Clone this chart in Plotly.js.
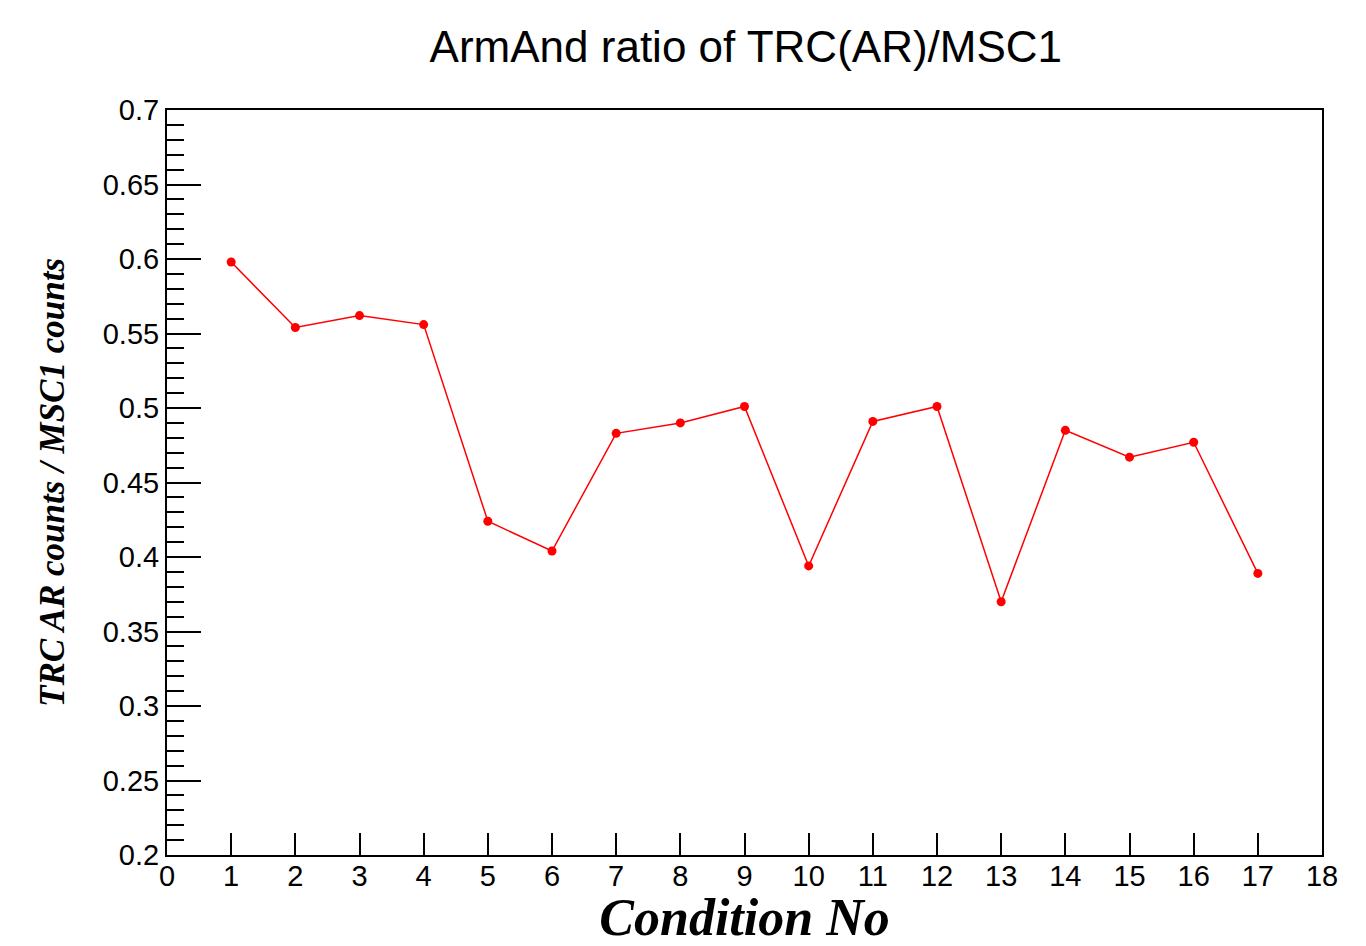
<!DOCTYPE html>
<html>
<head>
<meta charset="utf-8">
<script src="https://cdn.plot.ly/plotly-3.0.1.min.js"></script>
<style>html,body{margin:0;padding:0;background:#fff;}#chart{width:1366px;height:946px;}</style>
</head>
<body>
<div id="chart"></div>
<script>
const conditions = [1,2,3,4,5,6,7,8,9,10,11,12,13,14,15,16,17];
const ratios = [0.598,0.554,0.562,0.556,0.424,0.404,0.483,0.490,0.501,0.394,0.491,0.501,0.370,0.485,0.467,0.477,0.389];
const chartTitle = "ArmAnd ratio of TRC(AR)/MSC1";
const xTitle = "Condition No";
const yTitle = "TRC AR counts / MSC1 counts";

const trace = {
  x: conditions, y: ratios, type: 'scatter', mode: 'lines+markers',
  line: {color: '#ff0000', width: 1.5},
  marker: {color: '#ff0000', size: 9},
  hoverinfo: 'x+y'
};
const tickFont = {family: 'Liberation Sans, Arial, sans-serif', size: 29, color: '#000'};
const layout = {
  width: 1366, height: 946,
  paper_bgcolor: '#fff', plot_bgcolor: '#fff',
  margin: {l: 167, r: 44, t: 110, b: 91},
  showlegend: false,
  title: {text: chartTitle, x: 0.546, xanchor: 'center', y: 0.951, yanchor: 'middle',
          font: {family: 'Liberation Sans, Arial, sans-serif', size: 44, color: '#000'}},
  xaxis: {
    range: [0, 18], tickmode: 'linear', tick0: 0, dtick: 1,
    ticks: 'inside', ticklen: 22, tickwidth: 2, tickcolor: '#000',
    ticklabelstandoff: -6,
    showline: true, linecolor: '#000', linewidth: 2, mirror: true,
    showgrid: false, zeroline: false, tickfont: tickFont,
    title: {text: '<b><i>' + xTitle + '</i></b>', standoff: 6,
            font: {family: 'Liberation Serif, Times New Roman, serif', size: 52, color: '#000'}}
  },
  yaxis: {
    range: [0.2, 0.7], tickmode: 'linear', tick0: 0.2, dtick: 0.05,
    ticks: 'inside', ticklen: 34, tickwidth: 2, tickcolor: '#000',
    minor: {dtick: 0.01, ticks: 'inside', ticklen: 17, tickwidth: 2, tickcolor: '#000', showgrid: false},
    showline: true, linecolor: '#000', linewidth: 2, mirror: true,
    showgrid: false, zeroline: false, tickfont: tickFont,
    title: {text: '<b><i>' + yTitle + '</i></b>', standoff: 27,
            font: {family: 'Liberation Serif, Times New Roman, serif', size: 35, color: '#000'}}
  }
};
Plotly.newPlot('chart', [trace], layout, {displayModeBar: false, staticPlot: true});
</script>
</body>
</html>
